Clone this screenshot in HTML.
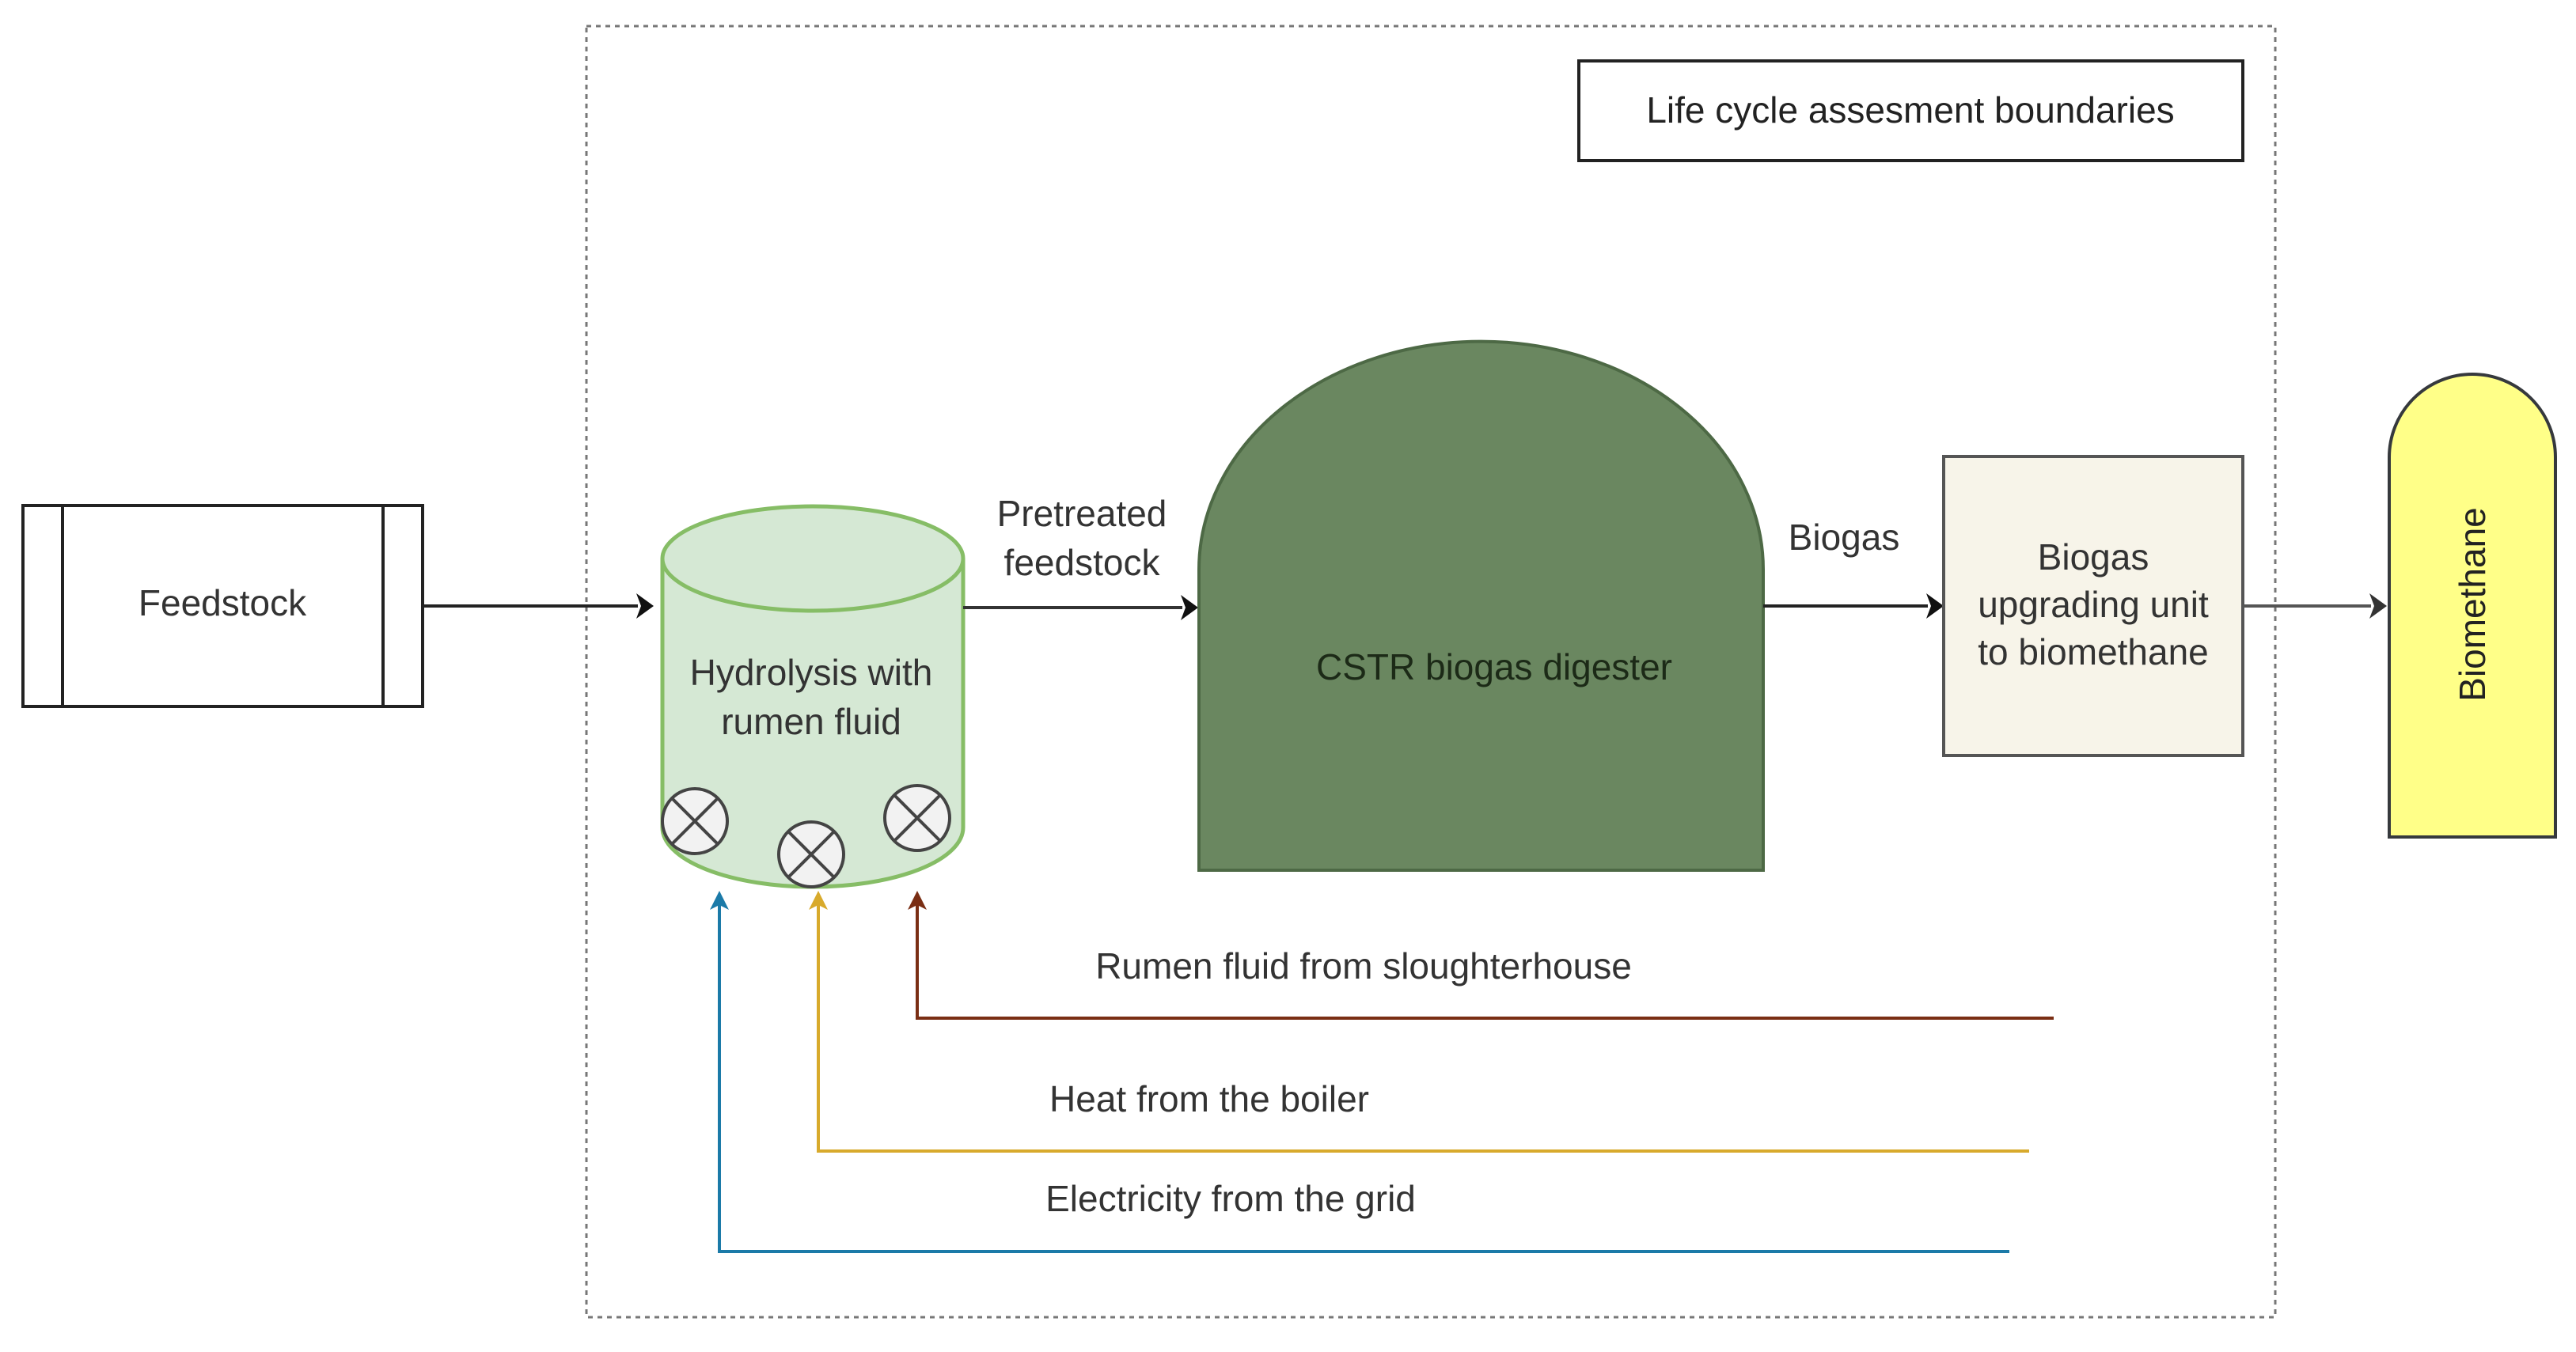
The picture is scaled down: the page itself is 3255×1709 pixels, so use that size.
<!DOCTYPE html>
<html><head><meta charset="utf-8"><style>html,body{margin:0;padding:0;background:#fff}svg{display:block}</style></head>
<body>
<svg width="3255" height="1709" viewBox="0 0 3255 1709" xmlns="http://www.w3.org/2000/svg" font-family="Liberation Sans, sans-serif">
<defs>
<marker id="ab" markerWidth="10" markerHeight="10" refX="8" refY="5" orient="auto" markerUnits="userSpaceOnUse" viewBox="0 0 10 10"><path d="M0,0 L10,5 L0,10 L3,5 Z" fill="#111"/></marker>
</defs>
<rect x="741" y="33" width="2134" height="1632" fill="none" stroke="#777" stroke-width="3" stroke-dasharray="6,6"/>
<rect x="1995" y="77" width="839" height="126" fill="#fff" stroke="#222" stroke-width="4"/>
<text x="2414" y="155" font-size="46" fill="#222" text-anchor="middle">Life cycle assesment  boundaries</text>
<!-- Feedstock -->
<rect x="29" y="639" width="505" height="254" fill="#fff" stroke="#222" stroke-width="4"/>
<line x1="79" y1="639" x2="79" y2="893" stroke="#222" stroke-width="4"/>
<line x1="484" y1="639" x2="484" y2="893" stroke="#222" stroke-width="4"/>
<text x="281" y="778" font-size="46" fill="#333" text-anchor="middle">Feedstock</text>
<!-- arrow to cylinder -->
<line x1="534" y1="766" x2="806" y2="766" stroke="#222" stroke-width="4"/>
<path d="M804,750 L826,766 L804,782 L810,766 Z" fill="#111"/>
<!-- cylinder -->
<path d="M837,706 L837,1046 A190,75 0 0 0 1217,1046 L1217,706" fill="#d5e8d4" stroke="#86bd66" stroke-width="5"/>
<ellipse cx="1027" cy="706" rx="190" ry="66" fill="#d5e8d4" stroke="#86bd66" stroke-width="5"/>
<text x="1025" y="866" font-size="46" fill="#333" text-anchor="middle">Hydrolysis with</text>
<text x="1025" y="928" font-size="46" fill="#333" text-anchor="middle">rumen fluid</text>
<g fill="#f2f2f2" stroke="#444" stroke-width="4">
<circle cx="878" cy="1038" r="41"/><line x1="849" y1="1009" x2="907" y2="1067"/><line x1="907" y1="1009" x2="849" y2="1067"/>
<circle cx="1025" cy="1080" r="41"/><line x1="996" y1="1051" x2="1054" y2="1109"/><line x1="1054" y1="1051" x2="996" y2="1109"/>
<circle cx="1159" cy="1034" r="41"/><line x1="1130" y1="1005" x2="1188" y2="1063"/><line x1="1188" y1="1005" x2="1130" y2="1063"/>
</g>
<!-- arrow to digester -->
<line x1="1217" y1="768" x2="1494" y2="768" stroke="#333" stroke-width="4"/>
<path d="M1492,752 L1514,768 L1492,784 L1498,768 Z" fill="#111"/>
<text x="1367" y="665" font-size="46" fill="#333" text-anchor="middle">Pretreated</text>
<text x="1367" y="727" font-size="46" fill="#333" text-anchor="middle">feedstock</text>
<!-- digester -->
<path d="M1515,1100 L1515,720 A356,288 0 0 1 2228,720 L2228,1100 Z" fill="#6a8760" stroke="#4d6945" stroke-width="4"/>
<text x="1888" y="859" font-size="46" fill="#1c2a17" text-anchor="middle">CSTR biogas digester</text>
<!-- biogas arrow -->
<line x1="2228" y1="766" x2="2436" y2="766" stroke="#222" stroke-width="4"/>
<path d="M2434,750 L2456,766 L2434,782 L2440,766 Z" fill="#111"/>
<text x="2330" y="695" font-size="46" fill="#333" text-anchor="middle">Biogas</text>
<!-- upgrading -->
<rect x="2456" y="577" width="378" height="378" fill="#f7f4e9" stroke="#555" stroke-width="4"/>
<text x="2645" y="720" font-size="46" fill="#333" text-anchor="middle">Biogas</text>
<text x="2645" y="780" font-size="46" fill="#333" text-anchor="middle">upgrading unit</text>
<text x="2645" y="840" font-size="46" fill="#333" text-anchor="middle">to biomethane</text>
<!-- biomethane arrow -->
<line x1="2834" y1="766" x2="2996" y2="766" stroke="#555" stroke-width="4"/>
<path d="M2994,750 L3016,766 L2994,782 L3000,766 Z" fill="#333"/>
<path d="M3019,1058 L3019,578 A105,105 0 0 1 3229,578 L3229,1058 Z" fill="#ffff88" stroke="#36393d" stroke-width="4"/>
<text x="0" y="0" font-size="46" fill="#222" text-anchor="middle" transform="translate(3140,764) rotate(-90)">Biomethane</text>
<!-- feeds -->
<polyline points="2595,1287 1159,1287 1159,1140" fill="none" stroke="#7a2e14" stroke-width="4"/>
<path d="M1147,1150 L1159,1126 L1171,1150 L1159,1144 Z" fill="#7a2e14"/>
<text x="1723" y="1237" font-size="46" fill="#333" text-anchor="middle">Rumen fluid from sloughterhouse</text>
<polyline points="2564,1455 1034,1455 1034,1140" fill="none" stroke="#d8aa2c" stroke-width="4"/>
<path d="M1022,1150 L1034,1126 L1046,1150 L1034,1144 Z" fill="#d8aa2c"/>
<text x="1528" y="1405" font-size="46" fill="#333" text-anchor="middle">Heat from the boiler</text>
<polyline points="2539,1582 909,1582 909,1140" fill="none" stroke="#1b7aa8" stroke-width="4"/>
<path d="M897,1150 L909,1126 L921,1150 L909,1144 Z" fill="#1b7aa8"/>
<text x="1555" y="1531" font-size="46" fill="#333" text-anchor="middle">Electricity from the grid</text>
</svg>
</body></html>
